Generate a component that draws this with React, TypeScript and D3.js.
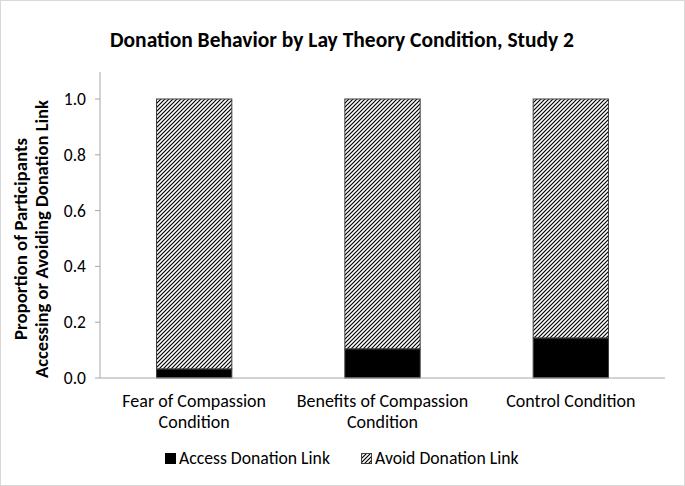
import React from "react";
import * as d3 from "d3";

const categories = ["Fear of Compassion|Condition", "Benefits of Compassion|Condition", "Control Condition"];
const accessValues = [0.032, 0.104, 0.143];
const yTicks = [0, 0.2, 0.4, 0.6, 0.8, 1.0];
const seriesNames = ["Access Donation Link", "Avoid Donation Link"];

const W = 685;
const H = 486;
const FONT = "Carlito, Calibri, Lato, 'Open Sans', sans-serif";

export default function App() {
  const left = 100, right = 665, top = 99, bottom = 378;
  const x = d3.scaleBand<string>().domain(categories).range([left, right]).paddingInner(0.6).paddingOuter(0.3);
  const y = d3.scaleLinear().domain([0, 1]).range([bottom, top]);
  const bw = x.bandwidth();
  const midY = 239;

  return (
    <svg width={W} height={H} style={{ position: "absolute", left: 0, top: 0 }}>
      <defs>
        <pattern id="hatch" width="4" height="4" patternUnits="userSpaceOnUse">
          <rect width="4" height="4" fill="#fff" />
          <path d="M-1,1 l2,-2 M0,4 l4,-4 M3,5 l2,-2" stroke="#000" strokeWidth="1.2" />
        </pattern>
      </defs>
      <rect x={0.5} y={0.5} width={W - 1} height={H - 1} fill="#fff" stroke="#d9d9d9" />
      <text x={342} y={47} textAnchor="middle" fontFamily={FONT} fontWeight="bold" fontSize={21.5} fill="#000">
        Donation Behavior by Lay Theory Condition, Study 2
      </text>
      {/* y axis */}
      <line x1={left} x2={left} y1={72} y2={bottom} stroke="#a6a6a6" />
      {yTicks.map((t) => (
        <g key={t}>
          <line x1={left - 5} x2={left} y1={y(t)} y2={y(t)} stroke="#a6a6a6" />
          <text x={left - 14} y={y(t) + 6} textAnchor="end" fontFamily={FONT} fontSize={17.5}>
            {t.toFixed(1)}
          </text>
        </g>
      ))}
      <text transform={`translate(27,${midY}) rotate(-90)`} textAnchor="middle" fontFamily={FONT} fontWeight="bold" fontSize={18} textLength={202} lengthAdjust="spacingAndGlyphs">
        Proportion of Participants
      </text>
      <text transform={`translate(48,${midY}) rotate(-90)`} textAnchor="middle" fontFamily={FONT} fontWeight="bold" fontSize={18} textLength={278} lengthAdjust="spacingAndGlyphs">
        Accessing or Avoiding Donation Link
      </text>
      {/* stacked bars: access at the bottom, avoid above it */}
      {categories.map((c, i) => {
        const x0 = x(c)!;
        return (
          <g key={c}>
            <rect x={x0} y={y(1)} width={bw} height={y(accessValues[i]) - y(1)} fill="url(#hatch)" stroke="#404040" strokeWidth={1} />
            <rect x={x0} y={y(accessValues[i])} width={bw} height={y(0) - y(accessValues[i])} fill="#000" stroke="#404040" strokeWidth={1} />
          </g>
        );
      })}
      <line x1={left} x2={right} y1={bottom} y2={bottom} stroke="#a6a6a6" />
      {categories.map((c) => {
        const cx = x(c)! + bw / 2;
        return c.split("|").map((line, j) => (
          <text key={c + j} x={cx} y={407 + j * 21} textAnchor="middle" fontFamily={FONT} fontSize={18}>
            {line}
          </text>
        ));
      })}
      {/* legend */}
      <rect x={165} y={453} width={11} height={11} fill="#000" />
      <text x={179} y={464} fontFamily={FONT} fontSize={17.7}>{seriesNames[0]}</text>
      <rect x={361.5} y={453.5} width={10} height={10} fill="url(#hatch)" stroke="#404040" />
      <text x={375} y={464} fontFamily={FONT} fontSize={17.7}>{seriesNames[1]}</text>
    </svg>
  );
}
